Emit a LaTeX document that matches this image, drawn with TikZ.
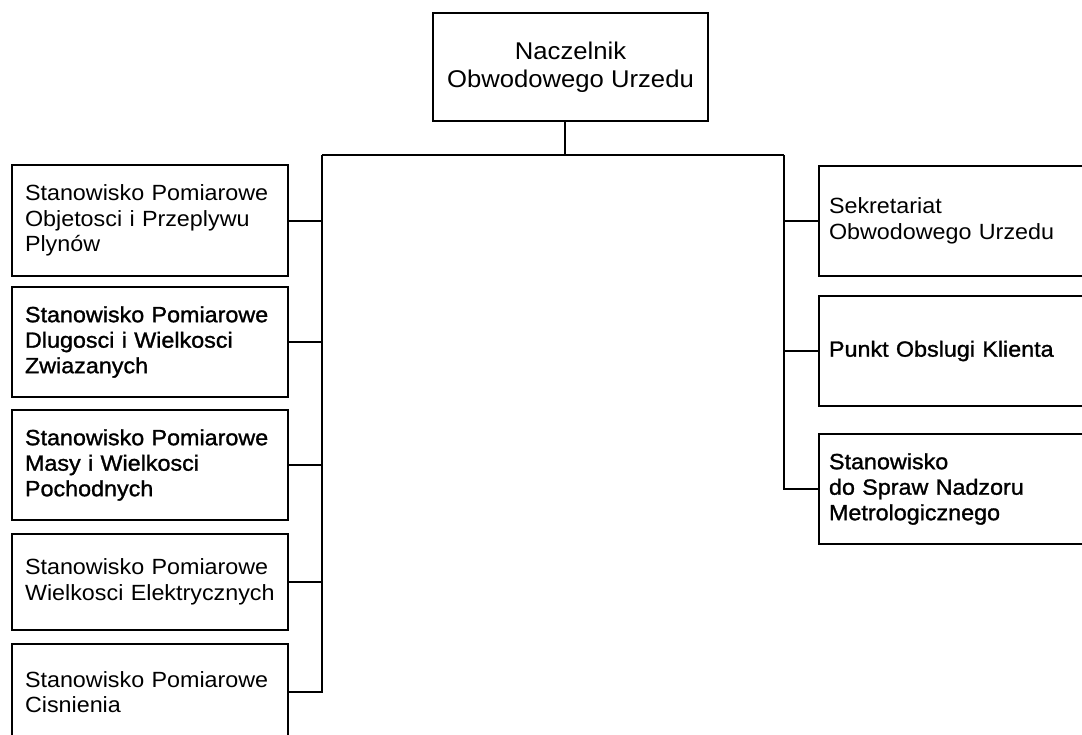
\documentclass[tikz,border=0pt]{standalone}
\usepackage{fontspec}
\setmainfont{Liberation Sans}[FakeStretch=1.06]
\newfontfamily\heavyfont{Liberation Sans}[FakeStretch=1.06,FakeBold=1.3]
\begin{document}
\begin{tikzpicture}[x=1pt,y=-1pt,
  line width=2pt,
  box/.style={draw, rectangle, line width=2pt, inner ysep=0pt},
  plain/.style={font=\fontsize{22}{25.5}\selectfont},
  heavy/.style={font=\heavyfont\fontsize{22}{25.5}\selectfont},
  lbox/.style={box, anchor=west, minimum width=276pt, text width=250pt,
    inner xsep=13pt, align=left},
  rbox/.style={box, anchor=west, minimum width=300pt, text width=280pt,
    inner xsep=10pt, align=left, minimum height=110pt},
  link/.style={line width=2pt}]
\useasboundingbox (0,0) rectangle (1082,734);
\clip (0,0) rectangle (1082,734);

% head of the office
\node[box, minimum width=275pt, minimum height=108pt, align=center,
      font=\fontsize{24.2}{28.5}\selectfont] (top) at (570.5,67)
      {Naczelnik\\Obwodowego Urzedu};

% measuring posts (left column)
\node[lbox, plain, minimum height=111pt] (l1) at (11,220.5)
  {Stanowisko Pomiarowe\\Objetosci i Przeplywu\\Plynów};
\node[lbox, heavy, minimum height=110pt] (l2) at (11,342)
  {Stanowisko Pomiarowe\\Dlugosci i Wielkosci\\Zwiazanych};
\node[lbox, heavy, minimum height=110pt] (l3) at (11,465)
  {Stanowisko Pomiarowe\\Masy i Wielkosci\\Pochodnych};
\node[lbox, plain, minimum height=96pt] (l4) at (11,582)
  {Stanowisko Pomiarowe\\Wielkosci Elektrycznych};
\node[lbox, plain, minimum height=96pt] (l5) at (11,692)
  {Stanowisko Pomiarowe\\Cisnienia};

% office units (right column)
\node[rbox, plain] (r1) at (818,221)
  {Sekretariat\\Obwodowego Urzedu};
\node[rbox, heavy] (r2) at (818,351)
  {Punkt Obslugi Klienta};
\node[rbox, heavy] (r3) at (818,489)
  {Stanowisko\\do Spraw Nadzoru\\Metrologicznego};

% bus lines
\coordinate (hub) at (565,155);
\coordinate (lbus) at (322,155);
\coordinate (rbus) at (784,155);
\draw[link] (top.south -| hub) -- (hub);
\draw[link] (lbus) -- (rbus);
\draw[link] (lbus) |- (l5.east);
\draw[link] (rbus) |- (r3.west);
\foreach \n in {l1,l2,l3,l4}
  \draw[link] (\n.east) -- (\n.east -| lbus);
\foreach \n in {r1,r2}
  \draw[link] (\n.west) -- (\n.west -| rbus);
\end{tikzpicture}
\end{document}
